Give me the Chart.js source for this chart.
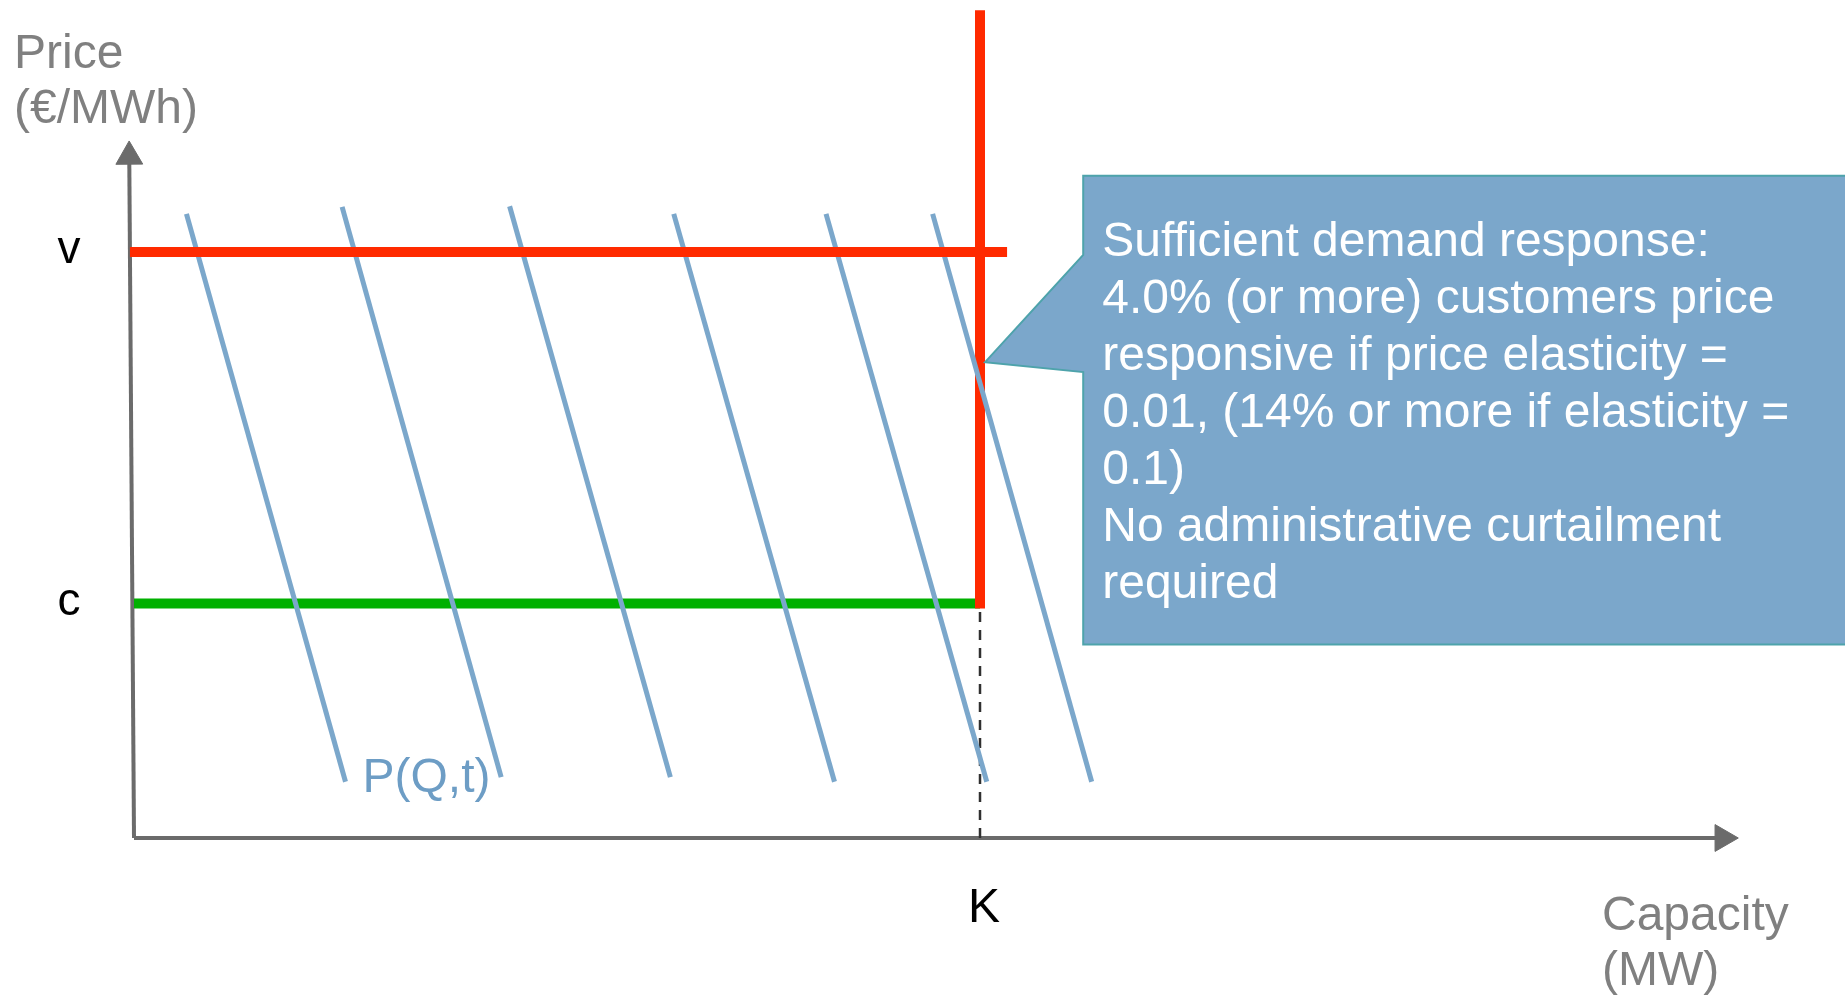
<!DOCTYPE html>
<html>
<head>
<meta charset="utf-8">
<script src="https://cdn.jsdelivr.net/npm/chart.js@4.4.1/dist/chart.umd.min.js"></script>
<style>
  html, body { margin: 0; padding: 0; background: #ffffff; overflow: hidden; }
  #wrap { width: 1845px; height: 996px; position: relative; }
</style>
</head>
<body>
<div id="wrap"><canvas id="chart" width="1845" height="996"></canvas></div>
<script>
// ---- Values (capacity in MW units, price in €/MWh units) ----
const capacityRange = [0, 100];
const priceRange = [0, 143];

const capacityK = 50;      // installed capacity K
const priceV = 100;        // value of lost load v
const priceC = 40;         // marginal cost c

// Hourly demand curves P(Q,t): upper and lower end of each curve [capacity, price]
const demandUpper = [[3.1, 106.5], [12.3, 107.7], [22.2, 107.8], [31.9, 106.5], [40.9, 106.5], [47.2, 106.5]];
const demandLower = [[12.5, 9.6], [21.7, 10.4], [31.7, 10.4], [41.4, 9.6], [50.4, 9.6], [56.6, 9.6]];

// Extent of the price cap line and of the capacity line
const priceCapEnd = 51.6;
const capacityLineTop = 140.4;

// Axis extents (arrow heads sit on the last point)
const xAxisEnd = 93.9;
const yAxisTop = [-0.28, 116.3];

// Axis tick labels
const yTickValues = [priceV, priceC];
const yTickLabels = ['v', 'c'];
const xTickValues = [capacityK];
const xTickLabels = ['K'];

// Axis titles
const yTitle = ['Price', '(€/MWh)'];
const xTitle = ['Capacity', '(MW)'];
const curveLabel = 'P(Q,t)';

// Callout text
const calloutLines = [
  'Sufficient demand response:',
  '4.0% (or more) customers price',
  'responsive if price elasticity =',
  '0.01, (14% or more if elasticity =',
  '0.1)',
  'No administrative curtailment',
  'required'
];

// Callout shape in chart units: box edges and pointer
const callout = { left: 56.1, right: 102, top: 113.0, bottom: 33.0, joinHigh: 99.5, joinLow: 79.5, tip: [50.3, 81.2] };

// ---- Styles ----
const FONT = '"Liberation Sans", Arial, Helvetica, sans-serif';
const RED = '#ff2a00';
const GREEN = '#00b000';
const BLUE = '#7ba7cb';
const AXIS = '#6b6b6b';
const TITLE_GREY = '#808080';

const pt = (p) => ({ x: p[0], y: p[1] });
// x position of the (slightly leaning) price axis at a given price
const axisXAt = (price) => yAxisTop[0] * price / yAxisTop[1];

const datasets = [];

// Price cap v (drawn on top)
datasets.push({
  data: [{ x: axisXAt(priceV), y: priceV }, { x: priceCapEnd, y: priceV }],
  borderColor: RED, borderWidth: 10, order: 0
});

// Demand curves
demandUpper.forEach((u, i) => {
  datasets.push({
    data: [pt(u), pt(demandLower[i])],
    borderColor: BLUE, borderWidth: 5, order: 1
  });
});

// Capacity line at K above c
datasets.push({
  data: [{ x: capacityK, y: priceC }, { x: capacityK, y: capacityLineTop }],
  borderColor: RED, borderWidth: 10, borderCapStyle: 'square', order: 2
});

// Marginal cost c up to K
datasets.push({
  data: [{ x: 0, y: priceC }, { x: capacityK, y: priceC }],
  borderColor: GREEN, borderWidth: 10, order: 3
});

// Dashed drop from K to the capacity axis
datasets.push({
  data: [{ x: capacityK, y: 0 }, { x: capacityK, y: priceC }],
  borderColor: '#303030', borderWidth: 2.5, borderDash: [10, 8], order: 4
});

// Axes with arrow heads
datasets.push({
  data: [{ x: 0, y: 0 }, { x: xAxisEnd, y: 0 }],
  borderColor: AXIS, borderWidth: 4, order: 5,
  pointRadius: [0, 15.5], pointStyle: 'triangle', pointRotation: 90,
  pointBackgroundColor: AXIS, pointBorderColor: AXIS, pointBorderWidth: 1
});
datasets.push({
  data: [{ x: 0, y: 0 }, pt(yAxisTop)],
  borderColor: AXIS, borderWidth: 4, order: 5,
  pointRadius: [0, 15.5], pointStyle: 'triangle', pointRotation: -0.4,
  pointBackgroundColor: AXIS, pointBorderColor: AXIS, pointBorderWidth: 1
});

datasets.forEach(d => {
  d.showLine = true;
  d.clip = false;
  d.fill = false;
  if (d.pointRadius === undefined) d.pointRadius = 0;
  d.pointHoverRadius = 0;
});

// Labels, titles and callout drawn on top of the datasets
const annotations = {
  id: 'annotations',
  afterDatasetsDraw(chart) {
    const ctx = chart.ctx;
    const xs = chart.scales.x, ys = chart.scales.y;
    const X = v => xs.getPixelForValue(v);
    const Y = v => ys.getPixelForValue(v);
    ctx.save();

    // Callout box with pointer
    const c = callout;
    ctx.beginPath();
    ctx.moveTo(X(c.left), Y(c.top));
    ctx.lineTo(X(c.right), Y(c.top));
    ctx.lineTo(X(c.right), Y(c.bottom));
    ctx.lineTo(X(c.left), Y(c.bottom));
    ctx.lineTo(X(c.left), Y(c.joinLow));
    ctx.lineTo(X(c.tip[0]), Y(c.tip[1]));
    ctx.lineTo(X(c.left), Y(c.joinHigh));
    ctx.closePath();
    ctx.fillStyle = BLUE;
    ctx.fill();
    ctx.lineWidth = 2;
    ctx.strokeStyle = '#4ea3ab';
    ctx.lineJoin = 'miter';
    ctx.stroke();

    ctx.fillStyle = '#ffffff';
    ctx.font = '48px ' + FONT;
    ctx.textAlign = 'left';
    ctx.textBaseline = 'alphabetic';
    calloutLines.forEach((line, i) => {
      ctx.fillText(line, X(c.left) + 19, Y(c.top) + 80 + i * 57);
    });

    // Tick labels
    ctx.fillStyle = '#000000';
    ctx.font = '46px ' + FONT;
    ctx.textAlign = 'center';
    yTickValues.forEach((v, i) => {
      ctx.fillText(yTickLabels[i], xs.left - 65, Y(v) + 11);
    });
    ctx.font = '48px ' + FONT;
    xTickValues.forEach((v, i) => {
      ctx.fillText(xTickLabels[i], X(v) + 4, ys.bottom + 84);
    });

    // Axis titles
    ctx.fillStyle = TITLE_GREY;
    ctx.font = '48px ' + FONT;
    ctx.textAlign = 'left';
    ctx.fillText(yTitle[0], 14, 68);
    ctx.fillText(yTitle[1], 14, 123);
    ctx.fillText(xTitle[0], 1602, 930);
    ctx.fillText(xTitle[1], 1602, 985);

    // Demand curve label
    ctx.fillStyle = '#6d9dc5';
    ctx.font = '48px ' + FONT;
    ctx.fillText(curveLabel, X(demandLower[0][0]) + 17, Y(demandLower[0][1]) + 10);

    ctx.restore();
  }
};

new Chart(document.getElementById('chart'), {
  type: 'scatter',
  data: { datasets },
  options: {
    responsive: false,
    animation: false,
    devicePixelRatio: 1,
    events: [],
    layout: { autoPadding: false, padding: { left: 134, right: 19, top: 0, bottom: 158 } },
    plugins: { legend: { display: false }, tooltip: { enabled: false }, title: { display: false } },
    scales: {
      x: { type: 'linear', min: capacityRange[0], max: capacityRange[1], display: false },
      y: { type: 'linear', min: priceRange[0], max: priceRange[1], display: false }
    }
  },
  plugins: [annotations]
});
</script>
</body>
</html>
